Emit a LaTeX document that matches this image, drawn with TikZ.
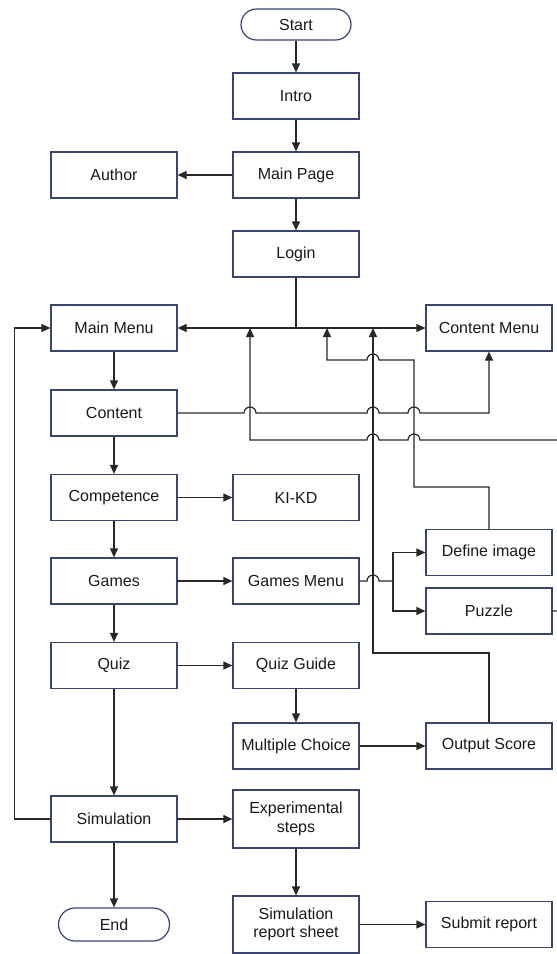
\documentclass[tikz,border=0pt]{standalone}
\usepackage{fontspec}
\setmainfont{Liberation Sans}
\usetikzlibrary{arrows.meta}
\definecolor{boxc}{RGB}{58,68,112}
\definecolor{linec}{RGB}{40,40,40}
\definecolor{txtc}{RGB}{25,25,25}
\begin{document}
\begin{tikzpicture}[x=1pt,y=-1pt,
  box/.style={draw=boxc, line width=1.2pt, minimum width=126pt, minimum height=46pt, inner sep=0pt, text=txtc, font=\fontsize{16}{18.5}\selectfont, align=center},
  term/.style={box, rounded corners=15.5pt, minimum width=110pt, minimum height=31pt},
  conn/.style={draw=linec, line width=1.2pt},
  arr/.style={conn, -{Triangle[length=9pt,width=8pt]}}
]
\useasboundingbox (0,0) rectangle (557,954);
\clip (0,0) rectangle (557,954);

\node[term] (start) at (296,24.5) {Start};
\node[box] (intro) at (296,96) {Intro};
\node[box] (mainpage) at (296,175) {Main Page};
\node[box] (author) at (114,175) {Author};
\node[box] (login) at (296,254) {Login};
\node[box] (mainmenu) at (114,328) {Main Menu};
\node[box] (contentmenu) at (489,328) {Content Menu};
\node[box] (content) at (114,413) {Content};
\node[box] (competence) at (114,497.5) {Competence};
\node[box] (kikd) at (296,497.5) {KI-KD};
\node[box] (games) at (114,581) {Games};
\node[box] (gamesmenu) at (296,581) {Games Menu};
\node[box] (define) at (489,552.5) {Define image};
\node[box] (puzzle) at (489,611) {Puzzle};
\node[box] (quiz) at (114,665.5) {Quiz};
\node[box] (quizguide) at (296,665.5) {Quiz Guide};
\node[box] (mc) at (296,746) {Multiple Choice};
\node[box] (output) at (489,746) {Output Score};
\node[box] (simulation) at (114,819) {Simulation};
\node[box, minimum height=58pt] (exp) at (296,819) {Experimental\\steps};
\node[term, minimum height=33pt, rounded corners=16.5pt, minimum width=111pt] (end) at (114,924.5) {End};
\node[box, minimum height=57pt] (simrep) at (296,924.5) {Simulation\\report sheet};
\node[box] (submit) at (489,924.5) {Submit report};

\draw[arr] (start) -- (intro);
\draw[arr] (intro) -- (mainpage);
\draw[arr] (mainpage) -- (author);
\draw[arr] (mainpage) -- (login);
\coordinate (bus) at (296,328);
\draw[conn] (login.south) -- (bus);
\draw[arr] (bus) -- (mainmenu.east);
\draw[arr] (bus) -- (contentmenu.west);

\draw[arr] (mainmenu) -- (content);
\draw[arr] (content) -- (competence);
\draw[arr] (competence) -- (games);
\draw[arr] (games) -- (quiz);
\draw[arr] (quiz) -- (simulation);
\draw[arr] (simulation) -- (end);
\draw[arr] (simulation.west) -- ++(-36,0) |- (mainmenu.west);

\draw[arr] (content.east) -- (244,413) arc[start angle=180,end angle=0,radius=6pt]
  -- (367,413) arc[start angle=180,end angle=0,radius=6pt]
  -- (408,413) arc[start angle=180,end angle=0,radius=6pt]
  -| (contentmenu.south);

\draw[arr] (define.north) |- (414,487) -- (414,360) -- (379,360)
  arc[start angle=0,end angle=180,radius=6pt] -- (327,360) -- (327,328);

\draw[arr] (output.north) |- (373,653) -- (373,328);

\draw[arr] (puzzle.east) -- (566,611) -- (566,440) -- (420,440)
  arc[start angle=0,end angle=180,radius=6pt] -- (379,440)
  arc[start angle=0,end angle=180,radius=6pt] -- (250,440) -- (250,328);

\draw[arr] (competence) -- (kikd);
\draw[arr] (games) -- (gamesmenu);
\coordinate (gsplit) at (393,581);
\draw[conn] (gamesmenu.east) -- (367,581) arc[start angle=180,end angle=0,radius=6pt] -- (gsplit);
\draw[arr] (gsplit) |- (define.west);
\draw[arr] (gsplit) |- (puzzle.west);

\draw[arr] (quiz) -- (quizguide);
\draw[arr] (quizguide) -- (mc);
\draw[arr] (mc) -- (output);
\draw[arr] (simulation) -- (exp);
\draw[arr] (exp) -- (simrep);
\draw[arr] (simrep) -- (submit);
\end{tikzpicture}
\end{document}
